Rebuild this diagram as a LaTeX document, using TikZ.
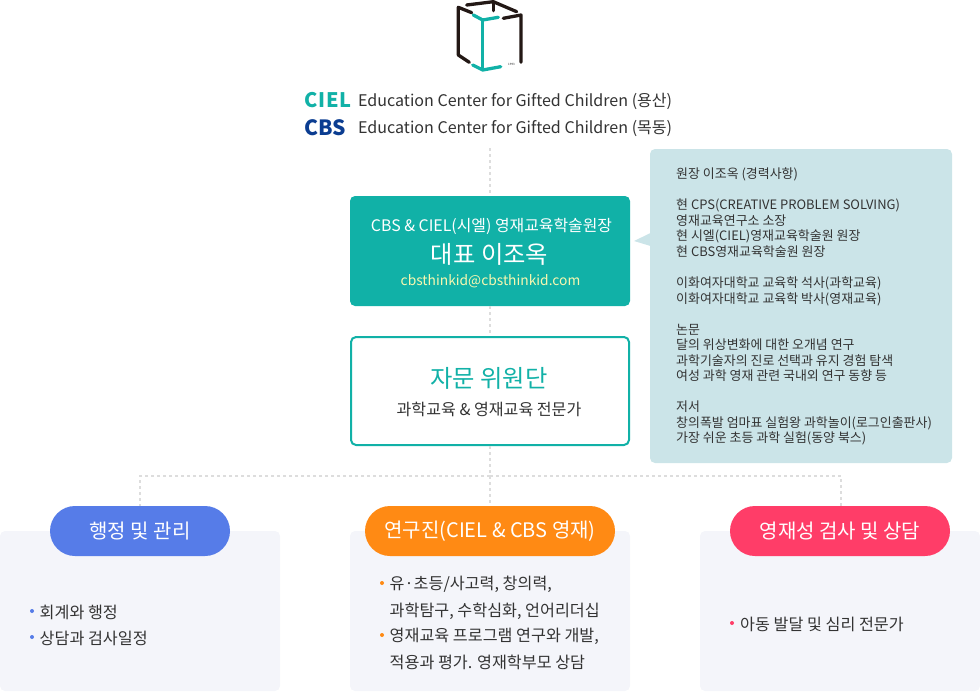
\documentclass[tikz,border=0pt]{standalone}
\usepackage{fontspec}
\setmainfont{Noto Sans CJK KR}
\definecolor{tealbox}{HTML}{11B1A7}
\definecolor{calloutbg}{HTML}{CBE4E8}
\definecolor{panelbg}{HTML}{F4F5FA}
\definecolor{bluepill}{HTML}{567CE8}
\definecolor{orangepill}{HTML}{FF8A14}
\definecolor{pinkpill}{HTML}{FF3D68}
\definecolor{bodytext}{HTML}{333333}
\definecolor{linkgrey}{HTML}{DDDDDD}
\definecolor{mailtext}{HTML}{F7F7B0}
\definecolor{logoblack}{HTML}{231815}
\definecolor{cbsblue}{HTML}{0B3D91}
\newcommand{\fs}[2]{\fontsize{#1}{#2}\selectfont}
\tikzset{
  panel/.style={fill=panelbg,rounded corners=5pt,draw=none},
  pill/.style={rounded corners=25pt,draw=none,text=white,inner sep=0pt,align=center,font=\fs{20}{24}},
  linkline/.style={draw=linkgrey,line width=2pt,dash pattern=on 3pt off 3pt},
  bodyline/.style={text=bodytext,anchor=west,inner sep=0pt,font=\fs{16.2}{20}},
  dotmark/.style={circle,inner sep=0pt,minimum size=4pt},
  logobar/.style={line width=3.3pt,color=logoblack,line cap=round,line join=round},
  logoteal/.style={line width=3.3pt,color=tealbox,line cap=round,line join=round},
  eduline/.style={text=bodytext,anchor=west,inner sep=0pt,font=\fs{16.05}{20}},
}
\begin{document}
\begin{tikzpicture}[x=1pt,y=-1pt]
\useasboundingbox (0,0) rectangle (980,691);
% logo
\draw[logobar] (466.7,5) -- (493.3,1.7) -- (516.7,11.7);
\draw[logobar] (493.3,1.7) -- (493.3,10.7);
\draw[logobar] (471.7,12.7) -- (458.3,7.3) -- (458.3,55) -- (469.3,62.3);
\draw[logobar] (503.3,18.3) -- (521,15) -- (521,62.3);
\draw[logoteal] (473.3,15) -- (482.7,20) -- (498.3,17.3);
\draw[logoteal] (482.7,20) -- (482.7,68.3);
\draw[logoteal] (472.7,65) -- (482.7,70) -- (500.7,66.7);
\node[inner sep=0pt,text=bodytext,font=\fs{3}{3}] (year) at (511.5,64) {1993};
% header text
\node[anchor=west,inner sep=0pt,text=tealbox,font=\fs{20}{22}\bfseries] (ciel) at (304,100) {C\kern1pt I\kern.5pt E\kern.5pt L};
\node[anchor=west,inner sep=0pt,text=cbsblue,font=\fs{21}{22}\bfseries] (cbs) at (304,128) {CBS};
\node[eduline] (edua) at (358,101) {Education Center for Gifted Children (용산)};
\node[eduline] (edub) at (358,128.5) {Education Center for Gifted Children (목동)};
\coordinate (linktop) at (490,148);
\coordinate (junction) at (490,476);
% boxes
\node[fill=tealbox,rounded corners=5pt,minimum width=280pt,minimum height=110pt,inner sep=0pt] (director) at (490,251) {};
\node[inner sep=0pt,text=white,font=\fs{15.9}{20}] (dirtitle) at (491.5,226.5) {CBS \& CIEL(시엘) 영재교육학술원장};
\node[inner sep=0pt,text=white,font=\fs{24.3}{26}] (dirname) at (489.5,254.5) {대표 이조옥};
\node[inner sep=0pt,text=mailtext,font=\fs{13.8}{18}] (dirmail) at (490.5,281.5) {cbsthinkid@cbsthinkid.com};
\node[draw=tealbox,line width=2pt,fill=white,rounded corners=5pt,minimum width=278pt,minimum height=108pt,inner sep=0pt] (advisory) at (490,391) {};
\node[inner sep=0pt,text=tealbox,font=\fs{24.3}{26}] (advname) at (489,378.5) {자문 위원단};
\node[inner sep=0pt,text=bodytext,font=\fs{16.1}{20}] (advsub) at (489,409) {과학교육 \& 영재교육 전문가};
% callout
\path[fill=calloutbg,rounded corners=5pt] (650,233) -- (650,149) -- (952,149) -- (952,463) -- (650,463) -- (650,246);
\path[fill=calloutbg] (650.5,233) -- (634,241) -- (650.5,246) -- cycle;
\node[anchor=north west,inner sep=0pt,align=left,text=bodytext,font=\fs{12.95}{15.53}] (career) at (676,167.8) {원장 이조옥 (경력사항)\\[15.53pt]
현 CPS(CREATIVE PROBLEM SOLVING)\\
영재교육연구소 소장\\
현 시엘(CIEL)영재교육학술원 원장\\
현 CBS영재교육학술원 원장\\[15.53pt]
이화여자대학교 교육학 석사(과학교육)\\
이화여자대학교 교육학 박사(영재교육)\\[15.53pt]
논문\\
달의 위상변화에 대한 오개념 연구\\
과학기술자의 진로 선택과 유지 경험 탐색\\
여성 과학 영재 관련 국내외 연구 동향 등\\[15.53pt]
저서\\
창의폭발 엄마표 실험왕 과학놀이(로그인출판사)\\
가장 쉬운 초등 과학 실험(동양 북스)};
% panels
\path[panel] (0,531) rectangle (280,691);
\path[panel] (350,531) rectangle (630,691);
\path[panel] (700,531) rectangle (980,691);
% pills
\node[pill,fill=bluepill,minimum width=180pt,minimum height=50pt] (admin) at (140,531) {행정 및 관리};
\node[pill,fill=orangepill,minimum width=250pt,minimum height=50pt] (research) at (490,531) {연구진(CIEL \& CBS 영재)};
\node[pill,fill=pinkpill,minimum width=220pt,minimum height=50pt] (gifted) at (840,531) {영재성 검사 및 상담};
% connectors
\draw[linkline] (linktop) -- (director.north);
\draw[linkline] (director.south) -- (advisory.north);
\draw[linkline] (advisory.south) -- (junction);
\draw[linkline] (junction) -- (research.north);
\draw[linkline] (junction) -- (admin.north |- junction) -- (admin.north);
\draw[linkline] (junction) -- (841,476) -- (841,506);
% panel text
\node[dotmark,fill=bluepill] (da) at (32,611) {};
\node[bodyline] (ta) at (39.5,612) {회계와 행정};
\node[dotmark,fill=bluepill] (db) at (32,637) {};
\node[bodyline] (tb) at (39.5,638) {상담과 검사일정};
\node[dotmark,fill=orangepill] (dc) at (382,583) {};
\node[bodyline] (tc) at (389.5,584) {유·초등/사고력, 창의력,};
\node[bodyline] (td) at (389.5,611) {과학탐구, 수학심화, 언어리더십};
\node[dotmark,fill=orangepill] (de) at (382,635) {};
\node[bodyline] (te) at (389.5,636) {영재교육 프로그램 연구와 개발,};
\node[bodyline] (tf) at (389.5,662) {적용과 평가. 영재학부모 상담};
\node[dotmark,fill=pinkpill] (dg) at (732,623) {};
\node[bodyline] (tg) at (740,624) {아동 발달 및 심리 전문가};
\end{tikzpicture}
\end{document}
